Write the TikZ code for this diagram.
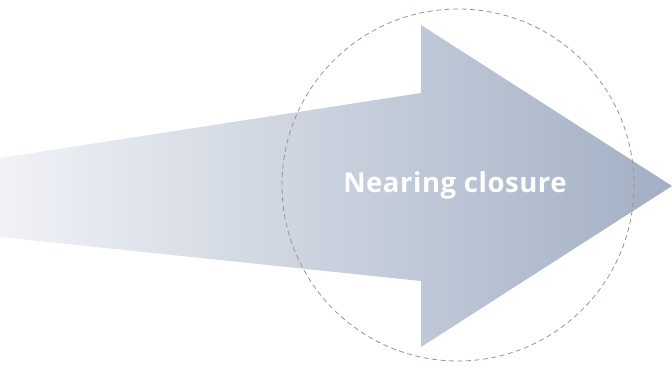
\documentclass[tikz,border=0pt]{standalone}
\usepackage{fontspec}
\setmainfont{Open Sans}
\newfontfamily\lblfont{Open Sans}[LetterSpace=2]
\begin{document}
\begin{tikzpicture}[x=1pt,y=-1pt,
  arrowshape/.style={left color=arrowL, right color=arrowR, draw=none},
  ring/.style={draw=ringC, line width=0.8pt, dash pattern=on 5pt off 3.5pt},
  label/.style={text=white, font=\lblfont\bfseries\fontsize{27.5}{30}\selectfont, inner sep=0pt}]
\definecolor{arrowL}{RGB}{240,242,246}
\definecolor{arrowR}{RGB}{162,175,196}
\definecolor{ringC}{RGB}{160,148,128}
\useasboundingbox (0,0) rectangle (672,366);
\path[arrowshape] (0,158) -- (421,93) -- (421,25) -- (672,186) -- (421,347) -- (421,281) -- (0,237) -- cycle;
\coordinate (c) at (458,185);
\draw[ring] (c) circle[radius=176];
\node[label] (t) at (455,185) {Nearing closure};
\end{tikzpicture}
\end{document}
